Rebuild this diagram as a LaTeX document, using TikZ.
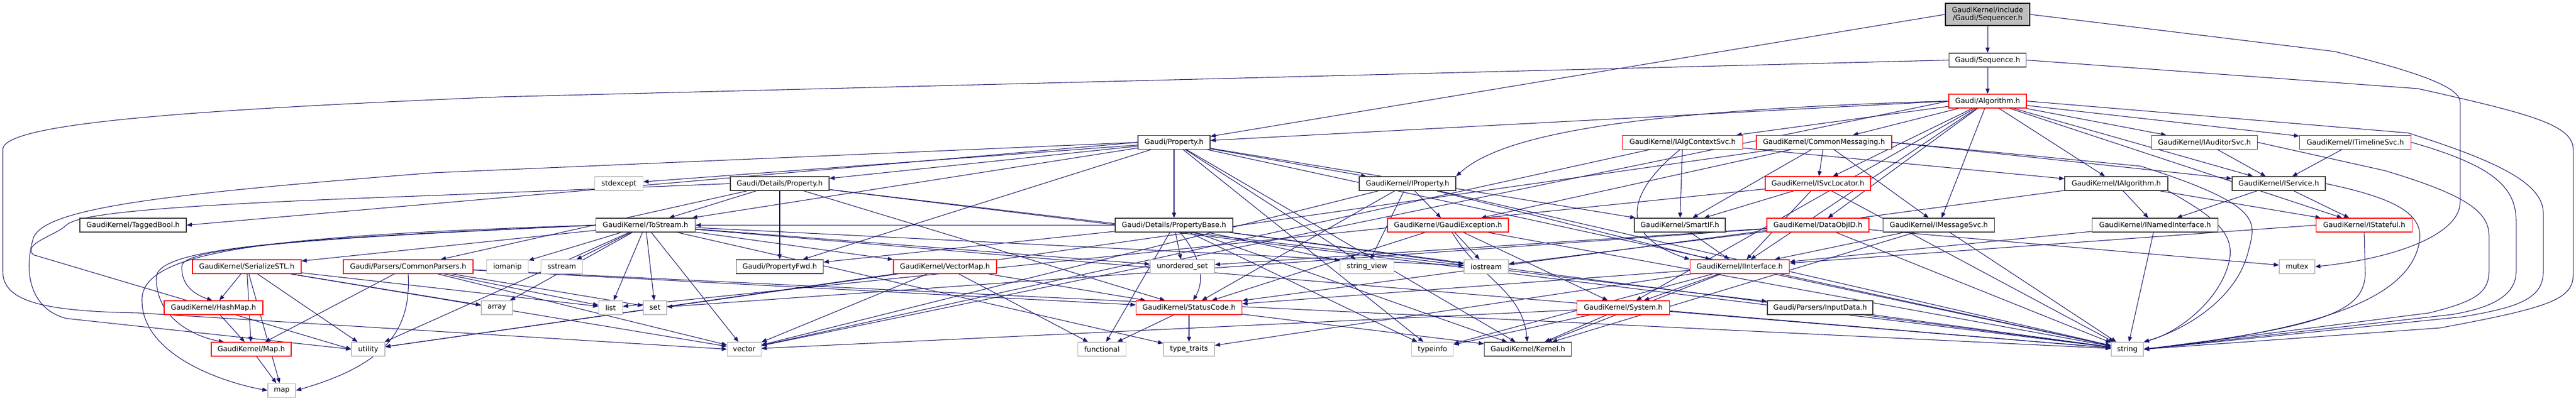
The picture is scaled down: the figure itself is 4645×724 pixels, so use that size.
\documentclass[tikz,border=0pt]{standalone}
\usepackage{fontspec}
\setmainfont{DejaVu Sans}
\usetikzlibrary{arrows.meta}
\definecolor{navy}{HTML}{191970}
\definecolor{gyb}{HTML}{BFBFBF}
\definecolor{dkb}{HTML}{404040}
\definecolor{rdb}{HTML}{FF0000}
\pgfdeclarelayer{background}
\pgfsetlayers{background,main}
\tikzset{
  nd/.style={draw, fill=white, line width=1pt, font=\fontsize{9.6}{11}\selectfont,
    minimum height=18.75pt, inner xsep=2pt, inner ysep=0pt},
  dk/.style={nd, draw=dkb},
  rd/.style={nd, draw=rdb},
  gy/.style={nd, draw=gyb},
  wd/.style={minimum width=#1*0.75pt},
  cn/.style={draw=navy, line width=0.8pt, -{Triangle[length=7pt,width=5.5pt]}}
}
\begin{document}
\begin{tikzpicture}[x=0.75pt,y=-0.75pt]
\useasboundingbox (0,0) rectangle (4645,724);
% row 0-2
\node[dk, wd=152, minimum height=30pt, fill=gyb, draw=black, align=center] (seqr) at (3584,26) {GaudiKernel/include\\/Gaudi/Sequencer.h};
\node[dk, wd=139] (seq) at (3584,108.5) {Gaudi/Sequence.h};
\node[rd, wd=140] (alg) at (3584,182.5) {Gaudi/Algorithm.h};
% row 3
\node[dk, wd=130] (prop) at (2117,257) {Gaudi/Property.h};
\node[rd, wd=217] (ictx) at (3034,257) {GaudiKernel/IAlgContextSvc.h};
\node[rd, wd=244] (cmsg) at (3289,257) {GaudiKernel/CommonMessaging.h};
\node[rd, wd=191] (iaud) at (3975,257) {GaudiKernel/IAuditorSvc.h};
\node[rd, wd=201] (itl) at (4247,257) {GaudiKernel/ITimelineSvc.h};
% row 4
\node[gy, wd=87] (stdex) at (1116,331.5) {stdexcept};
\node[dk, wd=178] (dprop) at (1406,331.5) {Gaudi/Details/Property.h};
\node[dk, wd=174] (iprop) at (2538,331.5) {GaudiKernel/IProperty.h};
\node[rd, wd=190] (isvl) at (3278,331.5) {GaudiKernel/ISvcLocator.h};
\node[dk, wd=186] (ialg) at (3816,331.5) {GaudiKernel/IAlgorithm.h};
\node[dk, wd=168] (isvc) at (4109,331.5) {GaudiKernel/IService.h};
% row 5
\node[dk, wd=192] (tbool) at (240,406.5) {GaudiKernel/TaggedBool.h};
\node[dk, wd=179] (tostr) at (1164,406.5) {GaudiKernel/ToStream.h};
\node[dk, wd=212] (pbase) at (2117,406.5) {Gaudi/Details/PropertyBase.h};
\node[rd, wd=218] (gexc) at (2611,406.5) {GaudiKernel/GaudiException.h};
\node[dk, wd=164] (smif) at (3029,406.5) {GaudiKernel/SmartIF.h};
\node[rd, wd=184] (doid) at (3278,406.5) {GaudiKernel/DataObjID.h};
\node[dk, wd=201] (imsg) at (3496,406.5) {GaudiKernel/IMessageSvc.h};
\node[dk, wd=227] (inamed) at (3886,406.5) {GaudiKernel/INamedInterface.h};
\node[rd, wd=173] (istate) at (4263,406.5) {GaudiKernel/IStateful.h};
% row 6
\node[rd, wd=196] (sstl) at (445,481.5) {GaudiKernel/SerializeSTL.h};
\node[rd, wd=234] (cpars) at (736,481.5) {Gaudi/Parsers/CommonParsers.h};
\node[gy, wd=75] (ioman) at (915,481.5) {iomanip};
\node[gy, wd=75] (sstr) at (1013,481.5) {sstream};
\node[dk, wd=157] (pfwd) at (1406,481.5) {Gaudi/PropertyFwd.h};
\node[rd, wd=186] (vmap) at (1704,481.5) {GaudiKernel/VectorMap.h};
\node[gy, wd=116] (uset) at (2132,481.5) {unordered\_set};
\node[gy, wd=97] (sview) at (2465,481.5) {string\_view};
\node[gy, wd=80] (iostr) at (2680,481.5) {iostream};
\node[rd, wd=179] (iint) at (3137,481.5) {GaudiKernel/IInterface.h};
\node[gy, wd=64] (mutex) at (4142,481.5) {mutex};
% row 7
\node[rd, wd=178] (hmap) at (385,555.5) {GaudiKernel/HashMap.h};
\node[gy, wd=56] (array) at (896,555.5) {array};
\node[gy, wd=43] (list) at (1101,555.5) {list};
\node[gy, wd=42] (set) at (1181,555.5) {set};
\node[rd, wd=191] (scode) at (2144,555.5) {GaudiKernel/StatusCode.h};
\node[rd, wd=167] (sys) at (2927,555.5) {GaudiKernel/System.h};
\node[dk, wd=190] (indata) at (3282,555.5) {Gaudi/Parsers/InputData.h};
% row 8-9
\node[rd, wd=144] (mapH) at (453,630.5) {GaudiKernel/Map.h};
\node[gy, wd=60] (util) at (664,630.5) {utility};
\node[gy, wd=61] (vec) at (1342,630.5) {vector};
\node[gy, wd=87] (func) at (1987,630.5) {functional};
\node[gy, wd=92] (ttr) at (2144,630.5) {type\_traits};
\node[gy, wd=75] (tinfo) at (2583,630.5) {typeinfo};
\node[dk, wd=157] (kern) at (2755,630.5) {GaudiKernel/Kernel.h};
\node[gy, wd=58] (str) at (3836,630.5) {string};
\node[gy, wd=50] (map) at (508,705) {map};

\begin{pgfonlayer}{background}
\fill[white] (0,0) rectangle (4645,724);
% Sequencer
\draw[cn] (seqr) -- (seq);
\draw[cn] (seqr.west) -- (prop);
\draw[cn] (seqr.east) -- (4210,93) .. controls (4380,135) and (4436,160) .. (4436,185) -- (4436,365) .. controls (4436,420) and (4330,465) .. (mutex.east);
% Sequence
\draw[cn] (seq) -- (alg);
\draw[cn] (seq.west) -- (900,175) .. controls (300,200) and (5,225) .. (5,270) -- (5,490) .. controls (5,545) and (80,562) .. (250,565) -- (vec.west);
\draw[cn] (seq.east) -- (4360,160) .. controls (4560,205) and (4640,225) .. (4640,270) -- (4640,495) .. controls (4640,540) and (4600,555) .. (4400,592) -- (str.east);
% Algorithm
\draw[cn] (alg.west) -- (prop);
\draw[cn] (alg) -- (ictx);
\draw[cn] (alg) -- (cmsg);
\draw[cn] (alg) -- (isvl);
\draw[cn] (alg) -- (doid);
\draw[cn] (alg) -- (imsg);
\draw[cn] (alg) -- (ialg);
\draw[cn] (alg) -- (isvc);
\draw[cn] (alg) -- (iaud);
\draw[cn] (alg) -- (itl);
\draw[cn] (alg) -- (istate);
\draw[cn] (alg.west) .. controls (2900,200) and (2700,250) .. (iprop.north east);
\draw[cn] (alg) -- (sys);
\draw[cn] (alg) -- (iint);
\draw[cn] (alg.west) -- (vec);
\draw[cn] (alg.east) -- (4342,240) .. controls (4500,290) and (4586,330) .. (4586,385) -- (4586,490) .. controls (4586,540) and (4540,555) .. (4440,572) -- (str.east);
% Gaudi/Property.h
\draw[cn] (prop) -- (stdex);
\draw[cn] (prop) -- (dprop);
\draw[cn] (prop) -- (pbase);
\draw[cn] (prop) -- (pfwd);
\draw[cn] (prop) -- (iprop);
\draw[cn] (prop) -- (smif);
\draw[cn] (prop.west) -- (tbool.east);
\draw[cn] (prop) -- (tostr);
\draw[cn] (prop) -- (kern);
\draw[cn] (prop) -- (str);
\draw[cn] (prop) -- (sview);
\draw[cn] (prop) -- (tinfo);
\draw[cn] (prop.west) -- (780,312) .. controls (300,350) and (80,375) .. (60,430) .. controls (40,500) and (60,560) .. (120,575) -- (util.west);
% Details/Property.h
\draw[cn] (dprop) -- (pfwd);
\draw[cn] (dprop) -- (tostr);
\draw[cn] (dprop) -- (cpars);
\draw[cn] (dprop) -- (scode);
\draw[cn] (dprop) -- (indata);
\draw[cn] (dprop) -- (str);
\draw[cn] (dprop.west) -- (780,353) .. controls (300,370) and (140,385) .. (119,407) .. controls (100,425) and (40,440) .. (60,460) -- (util.west);
% PropertyBase
\draw[cn] (pbase) -- (pfwd);
\draw[cn] (pbase) -- (tostr);
\draw[cn] (pbase) -- (kern);
\draw[cn] (pbase) to[out=-50,in=60] (scode);
\draw[cn] (pbase) -- (func);
\draw[cn] (pbase) -- (str);
\draw[cn] (pbase) -- (sview);
\draw[cn] (pbase) -- (tinfo);
\draw[cn] (pbase) -- (uset);
\draw[cn] (pbase) -- (iostr);
% ToStream
\draw[cn] (tostr) -- (sstl);
\draw[cn] (tostr.west) .. controls (700,425) and (330,440) .. (328,480) .. controls (326,510) and (345,530) .. (hmap.100);
\draw[cn] (tostr.west) .. controls (550,430) and (285,445) .. (282,500) .. controls (280,580) and (360,610) .. (mapH.165);
\draw[cn] (tostr.west) .. controls (500,425) and (258,450) .. (256,540) .. controls (254,640) and (400,690) .. (map.west);
\draw[cn] (tostr) -- (vmap);
\draw[cn] (tostr) -- (array);
\draw[cn] (tostr) -- (ioman);
\draw[cn] (tostr) -- (iostr);
\draw[cn] (tostr) -- (list);
\draw[cn] (tostr) -- (set);
\draw[cn] (tostr) -- (sstr);
\draw[cn] (tostr) -- (str);
\draw[cn] (tostr) -- (ttr);
\draw[cn] (tostr) -- (uset);
\draw[cn] (tostr) -- (util);
\draw[cn] (tostr) -- (vec);
% SerializeSTL
\draw[cn] (sstl) -- (hmap);
\draw[cn] (sstl) -- (mapH);
\draw[cn] (sstl) -- (map);
\draw[cn] (sstl) -- (util);
\draw[cn] (sstl) -- (array);
\draw[cn] (sstl) -- (list);
\draw[cn] (sstl) -- (vec);
\draw[cn] (hmap) -- (mapH);
\draw[cn] (mapH) -- (map);
% VectorMap
\draw[cn] (vmap) -- (func);
\draw[cn] (vmap) -- (vec);
\draw[cn] (vmap) -- (util);
\draw[cn] (vmap) -- (scode);
% CommonParsers
\draw[cn] (cpars) -- (mapH);
\draw[cn] (cpars.south) .. controls (742,600) and (690,660) .. (map.east);
\draw[cn] (cpars) -- (list);
\draw[cn] (cpars) -- (set);
\draw[cn] (cpars) -- (vec);
\draw[cn] (cpars) -- (scode);
\draw[cn] (cpars) -- (str);
% IProperty
\draw[cn] (iprop) -- (iint);
\draw[cn] (iprop) -- (scode);
\draw[cn] (iprop) -- (str);
\draw[cn] (iprop) -- (sview);
\draw[cn] (iprop) -- (vec);
\draw[cn] (iprop) -- (gexc);
% GaudiException
\draw[cn] (gexc) -- (iostr);
\draw[cn] (gexc) to[out=-60,in=95] (kern);
\draw[cn] (gexc) -- (scode);
\draw[cn] (gexc) -- (str);
\draw[cn] (gexc) -- (sys);
% DataObjID
\draw[cn] (doid) -- (iostr);
\draw[cn] (doid) -- (set);
\draw[cn] (doid) -- (uset);
\draw[cn] (doid) -- (str);
\draw[cn] (doid) -- (mutex);
% IMessageSvc
\draw[cn] (imsg) -- (iint);
\draw[cn] (imsg) -- (kern);
\draw[cn] (imsg) -- (str);
% INamedInterface
\draw[cn] (inamed) -- (iint);
\draw[cn] (inamed) -- (str);
% IStateful
\draw[cn] (istate.west) -- (iint);
\draw[cn] (istate.south) -- (4265,495) .. controls (4262,560) and (4200,590) .. (str.east);
% IAlgorithm
\draw[cn] (ialg) -- (inamed);
\draw[cn] (ialg) -- (istate);
\draw[cn] (ialg) -- (scode);
\draw[cn] (ialg.south east) .. controls (3990,390) and (4030,420) .. (4020,470) .. controls (4005,540) and (3930,600) .. (str.north east);
% IService
\draw[cn] (isvc) -- (inamed);
\draw[cn] (isvc) -- (istate);
\draw[cn] (isvc.east) .. controls (4330,360) and (4372,390) .. (4362,440) .. controls (4345,520) and (4240,590) .. (str.east);
% IAuditorSvc / ITimelineSvc
\draw[cn] (iaud) -- (isvc);
\draw[cn] (iaud.east) -- (4300,308) .. controls (4440,350) and (4488,380) .. (4488,425) -- (4488,490) .. controls (4488,530) and (4460,545) .. (4380,565) -- (str.east);
\draw[cn] (itl) -- (isvc);
\draw[cn] (itl.east) .. controls (4500,300) and (4537,340) .. (4537,400) -- (4537,490) .. controls (4537,530) and (4500,555) .. (4420,568) -- (str.east);
% IAlgContextSvc
\draw[cn] (ictx) -- (smif);
\draw[cn] (ictx.250) .. controls (2920,360) and (2930,430) .. (iint.north west);
\draw[cn] (ictx) -- (ialg);
\draw[cn] (ictx) -- (vec);
% CommonMessaging
\draw[cn] (cmsg) -- (gexc);
\draw[cn] (cmsg) -- (imsg);
\draw[cn] (cmsg) -- (isvl);
\draw[cn] (cmsg) -- (smif);
\draw[cn] (cmsg.east) -- (isvc);
\draw[cn] (cmsg) -- (util);
\draw[cn] (cmsg.east) -- (3860,300) .. controls (4080,370) and (4068,400) .. (4055,450) .. controls (4035,540) and (3940,595) .. (str.north east);
% ISvcLocator
\draw[cn] (isvl) -- (smif);
\draw[cn] (isvl) -- (iint);
\draw[cn] (isvl) -- (str);
\draw[cn] (isvl) -- (list);
\draw[cn] (smif) -- (iint);
% IInterface
\draw[cn] (iint) -- (sys);
\draw[cn] (iint) -- (kern);
\draw[cn] (iint) -- (scode);
\draw[cn] (iint) -- (tinfo);
\draw[cn] (iint) -- (ttr);
\draw[cn] (iint) -- (str);
% System
\draw[cn] (sys) -- (kern);
\draw[cn] (sys) -- (tinfo);
\draw[cn] (sys) -- (str);
\draw[cn] (sys) -- (vec);
% StatusCode
\draw[cn] (scode) -- (func);
\draw[cn] (scode) -- (ttr);
\draw[cn] (scode) -- (kern);
\draw[cn] (indata) -- (str);
\end{pgfonlayer}
\end{tikzpicture}
\end{document}
